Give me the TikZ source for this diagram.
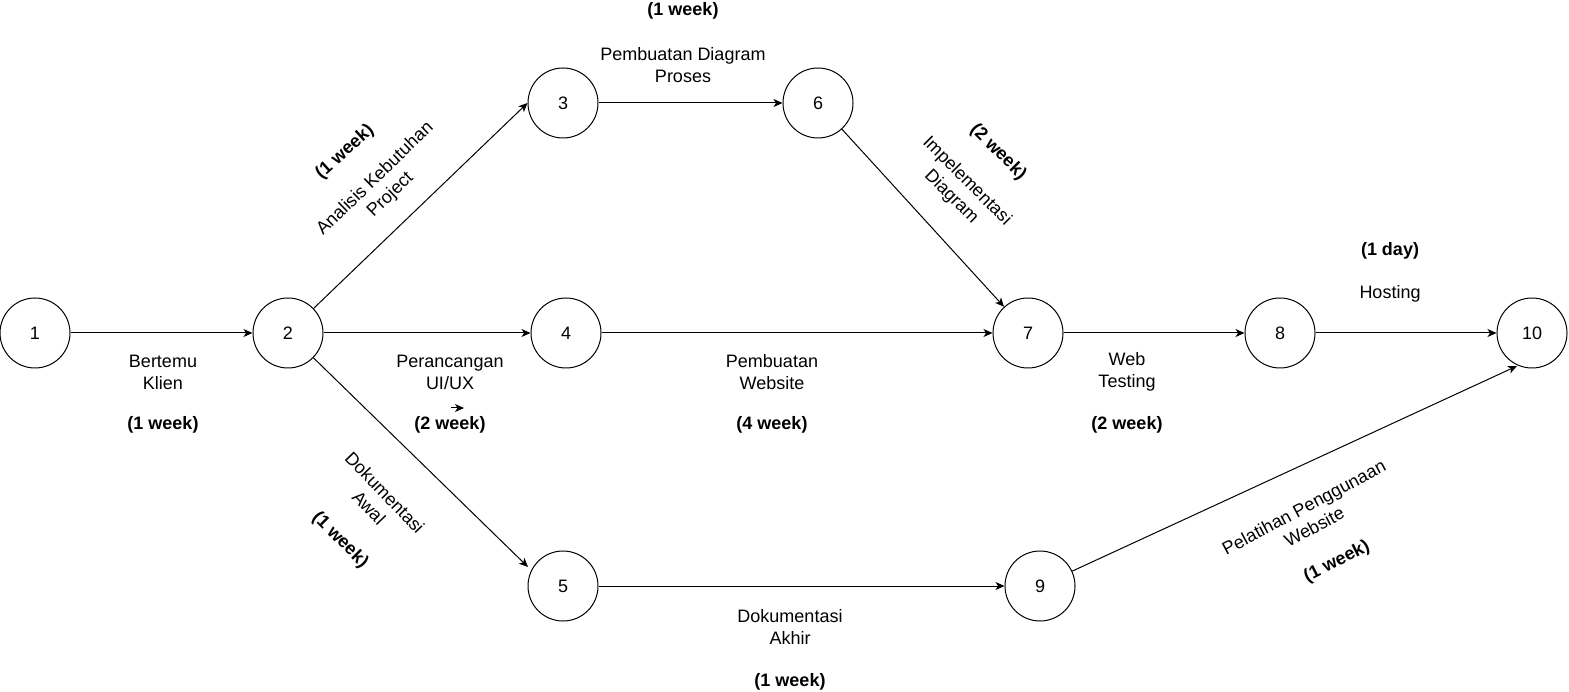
\documentclass[tikz,border=0pt]{standalone}
\usepackage{fontspec}
\setmainfont{Liberation Sans}
\usetikzlibrary{arrows.meta}
\begin{document}
\begin{tikzpicture}[x=1pt,y=-1pt,
  circ/.style={circle, draw, minimum size=70pt, inner sep=0pt, line width=1pt, font=\fontsize{18}{21.6}\selectfont},
  lab/.style={align=center, inner sep=0pt, font=\fontsize{18}{22}\selectfont},
  wk/.style={align=center, inner sep=0pt, font=\bfseries\fontsize{18}{22}\selectfont},
  arr/.style={-{Stealth[length=9pt,width=8pt,inset=2.5pt]}, line width=1pt}]
\useasboundingbox (0,0) rectangle (1569,692);
% nodes
\node[circ] (n1) at (35,333) {1};
\node[circ] (n2) at (288,333) {2};
\node[circ] (n3) at (563,103) {3};
\node[circ] (n4) at (566,333) {4};
\node[circ] (n5) at (563,586) {5};
\node[circ] (n6) at (818,103) {6};
\node[circ] (n7) at (1028,333) {7};
\node[circ] (n8) at (1280,333) {8};
\node[circ] (n9) at (1040,586) {9};
\node[circ] (n10) at (1532,333) {10};
\coordinate (t5) at (528,567);
\coordinate (t10) at (1517,366);
\coordinate (sa1) at (451,408);
\coordinate (sa2) at (464,408);
% edges
\draw[arr] (n1) -- (n2);
\draw[arr] (n2) -- (n3.west);
\draw[arr] (n2) -- (n4);
\draw[arr] (n2) -- (t5);
\draw[arr] (n3) -- (n6);
\draw[arr] (n4) -- (n7);
\draw[arr] (n6) -- (n7);
\draw[arr] (n7) -- (n8);
\draw[arr] (n8) -- (n10);
\draw[arr] (n5) -- (n9);
\draw[arr] (n9) -- (t10);
\draw[arr] (sa1) -- (sa2);
% labels
\node[lab] (l12) at (163,372) {Bertemu\\Klien};
\node[wk] (w12) at (163,425) {(1 week)};
\node[lab] (l24) at (450,372) {Perancangan\\UI/UX};
\node[wk] (w24) at (450,425) {(2 week)};
\node[lab] (l47) at (772,372) {Pembuatan\\Website};
\node[wk] (w47) at (772,425) {(4 week)};
\node[lab] (l78) at (1127,372) {Web\\Testing};
\node[wk] (w78) at (1127,425) {(2 week)};
\node[wk] (w810) at (1390,251) {(1 day)};
\node[lab] (l810) at (1390,294) {Hosting};
\node[wk] (w36) at (683,11) {(1 week)};
\node[lab] (l36) at (683,65) {Pembuatan Diagram\\Proses};
\node[lab] (l59) at (790,627) {Dokumentasi\\Akhir};
\node[wk] (w59) at (790,682) {(1 week)};
\node[lab, rotate=44] (l23) at (383,187) {Analisis Kebutuhan\\Project};
\node[wk, rotate=42] (w23) at (345,152) {(1 week)};
\node[lab, rotate=-46] (l25) at (377,500) {Dokumentasi\\Awal};
\node[wk, rotate=-45] (w25) at (340,540) {(1 week)};
\node[lab, rotate=-45] (l67) at (959,189) {Impelementasi\\Diagram};
\node[wk, rotate=-45] (w67) at (998,152) {(2 week)};
\node[lab, rotate=28] (l910) at (1309,517) {Pelatihan Penggunaan\\Website};
\node[wk, rotate=27] (w910) at (1337,562) {(1 week)};
\end{tikzpicture}
\end{document}
